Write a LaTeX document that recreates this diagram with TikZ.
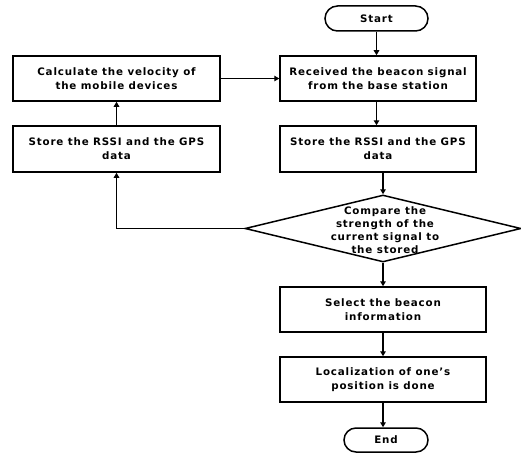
\documentclass[tikz,border=0pt]{standalone}
\usepackage{fontspec}
\setmainfont{DejaVu Sans}[LetterSpace=8]
\usetikzlibrary{shapes.geometric,shapes.misc,arrows.meta}
\begin{document}
\begin{tikzpicture}[x=1pt,y=-1pt,line width=1.5pt,
  lbl/.style={font=\fontsize{10.3}{14}\selectfont\bfseries, align=center},
  box/.style={draw, rectangle, minimum height=45pt, inner sep=0pt, lbl},
  term/.style={draw, rounded rectangle, minimum height=25pt, inner sep=0pt, lbl},
  dec/.style={draw, diamond, inner sep=0pt, minimum width=276pt, minimum height=67pt},
  arr/.style={-{Triangle[length=5pt,width=5.5pt]}}]
\useasboundingbox (0,0) rectangle (521,452);
\node[term, minimum width=103pt] (start) at (376.5,18.5) {Start};
\node[box, minimum width=196pt] (recv) at (378,78.5) {Received the beacon signal\\from the base station};
\node[box, minimum width=207pt] (calc) at (116.5,78.5) {Calculate the velocity of\\the mobile devices};
\node[box, minimum width=207pt, minimum height=46pt] (storeL) at (116.5,149) {Store the RSSI and the GPS\\data};
\node[box, minimum width=196pt, minimum height=46pt] (storeR) at (378,149) {Store the RSSI and the GPS\\data};
\node[dec] (cmp) at (383,228.5) {};
\node[lbl, font=\fontsize{10.3}{13}\selectfont\bfseries] (cmptxt) at (385,230) {Compare the\\strength of the\\current signal to\\the stored};
\node[box, minimum width=206pt] (sel) at (383,309.5) {Select the beacon\\information};
\node[box, minimum width=206pt] (loc) at (383,379.5) {Localization of one’s\\position is done};
\node[term, minimum width=84pt, minimum height=24pt] (end) at (386,440) {End};
\draw[arr] (start.south) -- (start.south |- recv.north);
\draw[arr] (calc.east) -- (recv.west);
\draw[arr] (recv.south -| start.south) -- (storeR.north -| start.south);
\draw[arr] (storeR.south -| cmp.north) -- (cmp.north);
\draw[arr] (storeL.north) -- (calc.south);
\draw[arr] (cmp.west) -| (storeL.south);
\draw[arr] (cmp.south) -- (sel.north);
\draw[arr] (sel.south) -- (loc.north);
\draw[arr] (loc.south) -- (loc.south |- end.north);
\end{tikzpicture}
\end{document}
